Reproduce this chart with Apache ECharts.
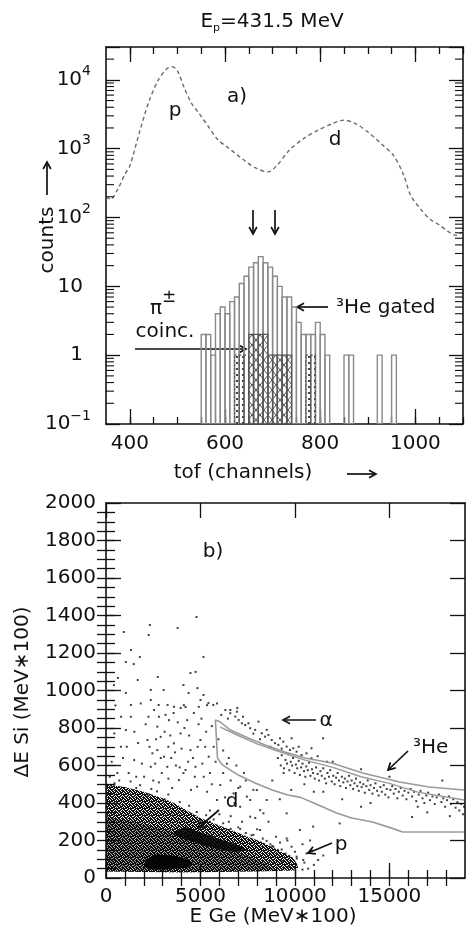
<!DOCTYPE html>
<html>
<head>
<meta charset="utf-8">
<script src="https://cdn.jsdelivr.net/npm/echarts@6/dist/echarts.min.js"></script>
<style>
html, body { margin: 0; padding: 0; background: #fff; }
#chart { width: 468px; height: 934px; }
</style>
</head>
<body>
<div id="chart"></div>
<script>
// ---- panel a) : time of flight spectra ----
const singlesTof    = [350, 360, 375, 390, 400, 420, 440, 460, 478, 489, 500, 515, 530, 545, 565, 585, 605, 625, 645, 665, 690, 710, 735, 765, 795, 825, 850, 875, 900, 930, 955, 975, 990, 1010, 1030, 1050, 1070, 1085, 1100];
const singlesCounts = [200, 185, 260, 430, 560, 1700, 4800, 10000, 14500, 15500, 13500, 7500, 4500, 3300, 2100, 1350, 1050, 820, 640, 520, 460, 580, 950, 1400, 1850, 2300, 2600, 2300, 1750, 1150, 780, 420, 210, 135, 95, 78, 62, 55, 62];

const binWidth = 10;
// 3He gated histogram
const heBins   = [550, 560, 570, 580, 590, 600, 610, 620, 630, 640, 650, 660, 670, 680, 690, 700, 710, 720, 730, 740, 750, 760, 770, 780, 790, 800, 810, 850, 860, 920, 950];
const heCounts = [2, 2, 1, 4, 5, 4, 6, 7, 11, 14, 19, 22, 27, 22, 19, 14, 10, 7, 7, 5, 3, 2, 2, 2, 3, 2, 1, 1, 1, 1, 1];
// pi+- coincidence histogram (cross hatched)
const piBins   = [650, 660, 670, 680, 690, 700, 710, 720, 730];
const piCounts = [2, 2, 2, 2, 1, 1, 1, 1, 1];
// dotted bins
const dotBins   = [620, 630, 640, 770, 780];
const dotCounts = [1, 1, 1, 1, 1];

const tofMin = 350, tofMax = 1100;
const countsMin = 0.1, countsMax = 30000;
const tofLabels = [400, 600, 800, 1000];

// ---- panel b) : dE-E ----
const eMin = 0, eMax = 19000, deMin = 0, deMax = 2000;
const eLabels  = [0, 5000, 10000, 15000];
const deLabels = [0, 200, 400, 600, 800, 1000, 1200, 1400, 1600, 1800, 2000];

// dense p/d region outline and loci
const denseArea = [[0, 35], [0, 500], [1000, 485], [2000, 460], [3000, 425], [3600, 400], [4200, 365], [5000, 320], [6000, 280], [6800, 250], [7500, 220], [8200, 195], [9000, 155], [9900, 108], [10200, 60], [10000, 40], [8000, 35], [4000, 30]];
const denseCore = [[0, 35], [0, 330], [1500, 300], [3000, 265], [4500, 215], [6000, 165], [7500, 120], [8500, 75], [9000, 40]];
const pLocus = [[2000, 60], [2100, 100], [2600, 125], [3400, 122], [4200, 105], [4600, 80], [4300, 55], [3200, 45], [2400, 45]];
const dLocus = [[3600, 250], [4200, 272], [5200, 238], [6200, 202], [7200, 168], [7500, 145], [6800, 138], [5800, 158], [4800, 185], [4000, 215], [3600, 235]];

// 3He gate
const gateTop   = [[5790, 843], [6050, 832], [6580, 789], [7530, 747], [8420, 709], [9470, 672], [10530, 640], [11950, 613], [13580, 560], [15530, 512], [17100, 485], [18950, 469]];
const gateLow   = [[5900, 640], [6160, 603], [7000, 549], [7890, 507], [8790, 469], [9630, 443], [10300, 430], [11000, 400], [12200, 347], [13000, 320], [14100, 299], [15000, 270], [15700, 245], [18950, 245]];
const gateInner = [[6050, 805], [7000, 760], [8000, 715], [9000, 680], [10500, 630], [12000, 590], [13500, 540], [15000, 505], [16500, 458], [18950, 416]];

// sparse events
const sparseHigh = [[940, 1312], [1050, 1152], [1320, 1216], [1470, 1141], [1790, 1179], [1680, 1056], [2260, 1296], [2320, 1349], [3790, 1333], [4790, 1392], [5160, 1179], [2370, 1003], [2740, 1072], [3050, 1003], [4100, 1029], [4470, 1093], [4740, 1099], [4840, 1013], [4370, 987], [5000, 949], [5160, 976], [5420, 933], [5680, 923], [2370, 949], [2790, 923], [3260, 923], [3580, 880], [3950, 907], [4210, 912], [6580, 896], [6950, 907], [1050, 987], [1320, 923], [630, 1067], [420, 1029]];
const sparseMid = [[1315, 860], [1841, 931], [2542, 896], [2718, 807], [2192, 736], [2455, 665], [2718, 682], [3069, 647], [3244, 593], [3595, 718], [3946, 771], [4296, 842], [4472, 682], [4735, 593], [4998, 736], [5173, 540], [5437, 647], [5700, 700], [3332, 842], [2893, 753], [2367, 593], [2016, 540], [1490, 629], [789, 700], [438, 771], [1052, 789], [3858, 522], [4209, 576], [4823, 487], [5350, 460], [5876, 416], [6050, 496], [6752, 451], [7629, 416], [8155, 362], [3595, 913], [4910, 913], [5350, 922], [5876, 931], [4121, 922],
  [2100, 820], [2300, 700], [2600, 610], [2800, 860], [2950, 560], [3100, 780], [3300, 700], [3450, 640], [3700, 600], [3800, 830], [4000, 690], [4100, 560], [4400, 760], [4600, 640], [4900, 820], [5100, 610], [5300, 780], [5500, 560], [5800, 620], [6200, 560], [6400, 610], [6600, 520], [7000, 480], [7300, 560], [7800, 470], [1700, 720], [1200, 560], [900, 640], [600, 560], [300, 620], [2500, 520], [3500, 480], [4500, 470], [6300, 430], [7100, 380], [7900, 320], [8600, 300], [9200, 420], [9800, 470], [10500, 500], [11500, 460], [12500, 420], [13500, 380], [8800, 520], [9400, 560],
  [1500, 780], [1900, 610], [2250, 860], [2650, 740], [2900, 640], [3150, 870], [3400, 760], [3650, 670], [3900, 590], [4150, 800], [4350, 620], [4650, 880], [4850, 700], [5050, 850], [5250, 700], [5600, 810], [5950, 740], [6200, 680], [6500, 640], [6900, 600], [7400, 520], [800, 860], [500, 920], [1100, 700], [1600, 540], [2800, 510], [3300, 530], [4700, 540], [5600, 500], [6800, 400]];
// events along the fuzzy upper edge of the dense region
const denseEdge = [[200, 540], [700, 520], [1300, 515], [1800, 495], [2400, 475], [2700, 462], [3300, 445], [3900, 405], [4400, 385], [4800, 352], [5300, 335], [5700, 312], [6200, 292], [7100, 262], [7700, 228], [8500, 198], [9300, 152], [10100, 104], [10500, 82], [10700, 50], [450, 505], [1600, 480], [2200, 445], [3100, 420], [4100, 360], [5500, 300], [6600, 262], [8800, 170], [9700, 118], [10400, 45]];
const alphaBand = [[6315, 896], [6579, 879], [6842, 861], [7017, 843], [7192, 825], [7368, 816], [7631, 799], [7894, 790], [8069, 834], [8245, 772], [8420, 754], [8596, 763], [8771, 736], [8946, 719], [9122, 710], [9385, 727], [9560, 701], [9736, 683], [9911, 692], [10087, 674], [10350, 656], [10613, 665], [10876, 639], [6929, 887], [7543, 825], [8508, 790], [9210, 745], [9823, 745], [10876, 692], [11490, 745], [6100, 870], [6450, 850], [7250, 860], [7800, 770], [8150, 740], [8700, 700], [9300, 690], [10200, 700], [11200, 650], [11700, 620]];
const heBand = [[9100, 640], [9250, 600], [9300, 655], [9420, 585], [9500, 630], [9580, 610], [9650, 660], [9700, 575], [9780, 620], [9850, 600], [9900, 640], [9980, 560], [10050, 605], [10120, 585], [10200, 625], [10260, 550], [10330, 590], [10400, 610], [10480, 570], [10550, 540], [10600, 595], [10680, 575], [10750, 615], [10820, 545], [10900, 580], [10960, 560], [11050, 530], [11120, 590], [11200, 555], [11280, 520], [11350, 570], [11420, 545], [11500, 585], [11580, 530], [11650, 505], [11720, 560], [11800, 540], [11870, 575], [11950, 515], [12030, 545], [12100, 500], [12180, 535], [12260, 560], [12330, 520], [12400, 490], [12480, 540], [12560, 510], [12640, 530], [12700, 480], [12780, 515], [12860, 545], [12930, 495], [13000, 520], [13080, 475], [13150, 505], [13230, 530], [13300, 490], [13380, 465], [13450, 510], [13530, 485], [13620, 500], [13700, 455], [13780, 490], [13850, 520], [13930, 470], [14000, 495], [14100, 450], [14180, 480], [14260, 505], [14350, 465], [14430, 440], [14520, 485], [14600, 460], [14700, 495], [14780, 445], [14860, 475], [14950, 430], [15050, 470], [15150, 490], [15230, 450], [15320, 475], [15420, 425], [15500, 460], [15600, 480], [15700, 440], [15800, 465], [15900, 420], [16000, 455], [16120, 475], [16200, 435], [16300, 460], [16420, 410], [16550, 445], [16650, 465], [16750, 425], [16850, 400], [16950, 440], [17050, 455], [17150, 415], [17280, 435], [17400, 395], [17500, 430], [17620, 445], [17750, 405], [17850, 425], [17950, 380], [18050, 415], [18150, 435], [18250, 395], [18380, 420], [18500, 375], [18600, 405], [18700, 360], [18800, 395], [18900, 340], [18950, 380],
  [12000, 620], [13500, 580], [15000, 540], [16500, 380], [17000, 350], [14000, 400], [11000, 460], [16200, 325], [18200, 330], [17800, 520]];
const pTail = [[8860, 167], [9210, 189], [9560, 211], [9823, 167], [10262, 256], [10613, 131], [10876, 149], [10438, 96], [8157, 256], [8332, 345], [8508, 416], [7982, 469], [10964, 274], [11227, 96], [10087, 114], [7631, 327], [7455, 434], [7105, 487], [12367, 291], [9560, 345],
  [6500, 300], [7000, 270], [7400, 240], [7800, 230], [8300, 210], [8700, 180], [9100, 150], [9500, 130], [7200, 300], [8000, 260], [6000, 340], [5500, 360], [6600, 330], [9000, 220], [9600, 200], [10000, 140], [10400, 180], [9300, 90], [9700, 60], [8900, 80], [11000, 70], [11500, 120], [10800, 200]];

// ---- helpers ----
const FONT = '"DejaVu Sans", sans-serif';
const INK = '#111';
const FS = 20;

function range(a, b, step) { const r = []; for (let v = a; v <= b; v += step) r.push(v); return r; }
const logMinor = [];
[-1, 0, 1, 2, 3, 4].forEach(e => { for (let m = 2; m <= 9; m++) { const v = m * Math.pow(10, e); if (v < countsMax) logMinor.push(+v.toPrecision(3)); } });

function pattern(w, h, draw) {
  const c = document.createElement('canvas');
  c.width = w; c.height = h;
  draw(c.getContext('2d'));
  return { image: c, repeat: 'repeat' };
}
const speckle = pattern(7, 7, ctx => {
  const rows = ['1101110', '0111011', '1110101', '1011111', '0110110', '1101011', '1011101'];
  ctx.fillStyle = '#111';
  rows.forEach((r, j) => r.split('').forEach((b, i) => { if (b === '1') ctx.fillRect(i, j, 1, 1); }));
});
const crossHatch = pattern(8, 10, ctx => {
  ctx.strokeStyle = '#555'; ctx.lineWidth = 1;
  ctx.beginPath(); ctx.moveTo(0, 0); ctx.lineTo(8, 10); ctx.moveTo(8, 0); ctx.lineTo(0, 10); ctx.stroke();
});
const dotted = pattern(6, 6, ctx => { ctx.fillStyle = '#444'; ctx.fillRect(2, 2, 2, 2); });

const plain = v => String(v);

function axis(grid, pos, min, max, ticks, len, extra) {
  return Object.assign({
    type: 'value', gridIndex: grid, position: pos, min: min, max: max,
    axisLine: { show: true, onZero: false, lineStyle: { color: INK, width: 1.6 } },
    axisTick: { show: true, inside: true, length: len, customValues: ticks, lineStyle: { color: INK, width: 1.3 } },
    axisLabel: { show: false },
    splitLine: { show: false }
  }, extra || {});
}
function labels(values, margin) {
  return { show: true, customValues: values, margin: margin, color: INK, fontSize: FS, fontFamily: FONT, formatter: plain };
}
function logAxis(pos, withLabels) {
  return {
    type: 'log', logBase: 10, gridIndex: 0, position: pos, min: countsMin, max: countsMax,
    axisLine: { show: true, onZero: false, lineStyle: { color: INK, width: 1.6 } },
    axisTick: { show: true, inside: true, length: 14, lineStyle: { color: INK, width: 1.3 } },
    splitLine: { show: false },
    axisLabel: {
      show: withLabels, margin: 15, color: INK,
      formatter: v => {
        const l = Math.log10(v), e = Math.round(l);
        if (Math.abs(l - e) > 1e-6) return '';
        if (e === 0) return '{b|1}{g| }';
        if (e === 1) return '{b|10}{g| }';
        return '{b|10}{s|' + (e < 0 ? '\u2212' + (-e) : e) + '}';
      },
      rich: {
        b: { fontSize: FS, fontFamily: FONT, color: INK, lineHeight: 30 },
        s: { fontSize: 14, fontFamily: FONT, color: INK, lineHeight: 14, verticalAlign: 'top' },
        g: { width: 8, fontSize: 13 }
      }
    }
  };
}
function histSeries(bins, counts, style, z) {
  return {
    type: 'custom', xAxisIndex: 0, yAxisIndex: 0, clip: true, silent: true, z: z,
    data: bins.map((b, i) => [b, counts[i]]),
    renderItem: (params, api) => {
      const x0 = api.value(0), c = api.value(1);
      const p0 = api.coord([x0, c]), p1 = api.coord([x0 + binWidth, c]);
      const base = params.coordSys.y + params.coordSys.height;
      return { type: 'rect', shape: { x: p0[0], y: p0[1], width: p1[0] - p0[0], height: base - p0[1] }, style: style };
    }
  };
}
function polySeries(points, style, z) {
  return {
    type: 'custom', xAxisIndex: 4, yAxisIndex: 2, clip: true, silent: true, z: z,
    data: [points[0]],
    renderItem: (params, api) => ({ type: 'polygon', shape: { points: points.map(p => api.coord(p)) }, style: style })
  };
}
function text(x, y, str, size, extra) {
  return Object.assign({
    type: 'text', x: x, y: y, silent: true,
    style: Object.assign({ text: str, font: size + 'px ' + FONT, fill: INK, textAlign: 'center', align: 'center', textVerticalAlign: 'middle', verticalAlign: 'middle' }, (extra && extra.style) || {})
  }, extra ? { rotation: extra.rotation || 0 } : {});
}
function arrow(x1, y1, x2, y2) {
  const a = Math.atan2(y2 - y1, x2 - x1), L = 8, s = 0.5;
  const st = { stroke: INK, lineWidth: 1.7, fill: null };
  return {
    type: 'group', silent: true, children: [
      { type: 'line', shape: { x1: x1, y1: y1, x2: x2, y2: y2 }, style: st },
      { type: 'polyline', shape: { points: [[x2 - L * Math.cos(a - s), y2 - L * Math.sin(a - s)], [x2, y2], [x2 - L * Math.cos(a + s), y2 - L * Math.sin(a + s)]] }, style: st }
    ]
  };
}

const pts = (arr, sz) => ({ type: 'scatter', xAxisIndex: 4, yAxisIndex: 2, data: arr, symbol: 'rect', symbolSize: sz || 2, itemStyle: { color: '#111' }, silent: true, z: 5 });

const chart = echarts.init(document.getElementById('chart'));
chart.setOption({
  animation: false,
  backgroundColor: '#fff',
  grid: [
    { left: 106, top: 47, width: 357, height: 377 },
    { left: 106, top: 503, width: 359, height: 375 }
  ],
  xAxis: [
    axis(0, 'bottom', tofMin, tofMax, tofLabels, 15, { axisLabel: labels(tofLabels, 10) }),
    axis(0, 'bottom', tofMin, tofMax, range(400, 1100, 50), 7, { axisLine: { show: false } }),
    axis(0, 'top', tofMin, tofMax, tofLabels, 15),
    axis(0, 'top', tofMin, tofMax, range(400, 1100, 50), 7, { axisLine: { show: false } }),
    axis(1, 'bottom', eMin, eMax, eLabels, 15, { axisLabel: labels(eLabels, 9) }),
    axis(1, 'bottom', eMin, eMax, range(1000, 18000, 1000), 8, { axisLine: { show: false } }),
    axis(1, 'top', eMin, eMax, eLabels, 15),
    axis(1, 'top', eMin, eMax, range(1000, 18000, 1000), 8, { axisLine: { show: false } })
  ],
  yAxis: [
    logAxis('left', true),
    logAxis('right', false),
    axis(1, 'left', deMin, deMax, deLabels, 15, { axisLabel: labels(deLabels, 10) }),
    axis(1, 'left', deMin, deMax, range(50, 1950, 50), 9, { axisLine: { show: false } }),
    axis(1, 'right', deMin, deMax, deLabels, 15),
    axis(1, 'right', deMin, deMax, range(50, 1950, 50), 9, { axisLine: { show: false } })
  ],
  series: [
    {
      type: 'line', xAxisIndex: 0, yAxisIndex: 0, silent: true, z: 3,
      data: singlesTof.map((t, i) => [t, singlesCounts[i]]),
      smooth: 0.3, symbol: 'none',
      lineStyle: { color: '#6e6e6e', width: 1.4, type: [4, 3] }
    },
    histSeries(heBins, heCounts, { fill: 'none', stroke: '#8a8a8a', lineWidth: 1.4 }, 4),
    histSeries(piBins, piCounts, { fill: crossHatch, stroke: '#555', lineWidth: 1.2 }, 5),
    histSeries(dotBins, dotCounts, { fill: dotted, stroke: '#555', lineWidth: 1.2, lineDash: [2, 2] }, 5),
    {
      type: 'custom', xAxisIndex: 0, yAxisIndex: 0, silent: true, z: 6,
      data: logMinor.map(v => [tofMin, v]),
      renderItem: (params, api) => {
        const y = api.coord([tofMin, api.value(1)])[1];
        const cs = params.coordSys;
        const st = { stroke: INK, lineWidth: 1.1 };
        return {
          type: 'group', children: [
            { type: 'line', shape: { x1: cs.x, y1: y, x2: cs.x + 8, y2: y }, style: st },
            { type: 'line', shape: { x1: cs.x + cs.width, y1: y, x2: cs.x + cs.width - 8, y2: y }, style: st }
          ]
        };
      }
    },
    polySeries(denseArea, { fill: speckle }, 2),
    polySeries(denseCore, { fill: 'rgba(0,0,0,0.3)' }, 3),
    polySeries(pLocus, { fill: 'rgba(0,0,0,0.92)' }, 4),
    polySeries(dLocus, { fill: 'rgba(0,0,0,0.85)' }, 4),
    {
      type: 'line', xAxisIndex: 4, yAxisIndex: 2, silent: true, z: 6,
      data: gateLow.slice().reverse().concat(gateTop), symbol: 'none',
      lineStyle: { color: '#9a9a9a', width: 1.6 }
    },
    {
      type: 'line', xAxisIndex: 4, yAxisIndex: 2, silent: true, z: 6,
      data: gateInner, symbol: 'none',
      lineStyle: { color: '#9a9a9a', width: 1.4 }
    },
    pts(sparseHigh), pts(sparseMid), pts(denseEdge), pts(alphaBand), pts(heBand), pts(pTail)
  ],
  graphic: [
    { type: 'text', x: 272, y: 22, silent: true, style: { text: '{a|E}{b|p}{a|=431.5 MeV}', textAlign: 'center', align: 'center', textVerticalAlign: 'middle', verticalAlign: 'middle',
      rich: { a: { fontSize: FS, fontFamily: FONT, fill: INK, color: INK, lineHeight: 24 }, b: { fontSize: 11, fontFamily: FONT, fill: INK, color: INK, lineHeight: 12, verticalAlign: 'bottom' } } } },
    text(237, 97, 'a)', FS),
    text(175, 111, 'p', FS),
    text(335, 140, 'd', FS),
    arrow(253, 210, 253, 234),
    arrow(275, 210, 275, 234),
    text(336, 308, '\u00b3He gated', FS, { style: { textAlign: 'left', align: 'left' } }),
    arrow(328, 307, 297, 307),
    { type: 'text', x: 150, y: 304, silent: true, style: { text: '{a|\u03c0}{s|\u00b1}', textAlign: 'left', align: 'left', textVerticalAlign: 'middle', verticalAlign: 'middle',
      rich: { a: { fontSize: FS, fontFamily: FONT, fill: INK, color: INK, lineHeight: 30, verticalAlign: 'bottom' }, s: { fontSize: 17, fontFamily: FONT, fill: INK, color: INK, lineHeight: 18, verticalAlign: 'top' } } } },
    text(165, 332, 'coinc.', FS),
    arrow(135, 349, 246, 349),
    text(48, 240, 'counts', FS, { rotation: Math.PI / 2 }),
    arrow(47, 195, 47, 162),
    text(243, 473, 'tof (channels)', FS),
    arrow(347, 474, 376, 474),
    text(213, 552, 'b)', FS),
    arrow(316, 720, 283, 720),
    text(326, 721, '\u03b1', FS),
    text(413, 748, '\u00b3He', FS, { style: { textAlign: 'left', align: 'left' } }),
    arrow(408, 751, 388, 770),
    text(232, 802, 'd', FS),
    arrow(219, 810, 198, 828),
    text(341, 845, 'p', FS),
    arrow(332, 843, 308, 853),
    text(273, 917, 'E Ge (MeV\u2217100)', FS),
    text(23, 692, '\u0394E Si (MeV\u2217100)', FS, { rotation: Math.PI / 2 })
  ]
});
</script>
</body>
</html>
